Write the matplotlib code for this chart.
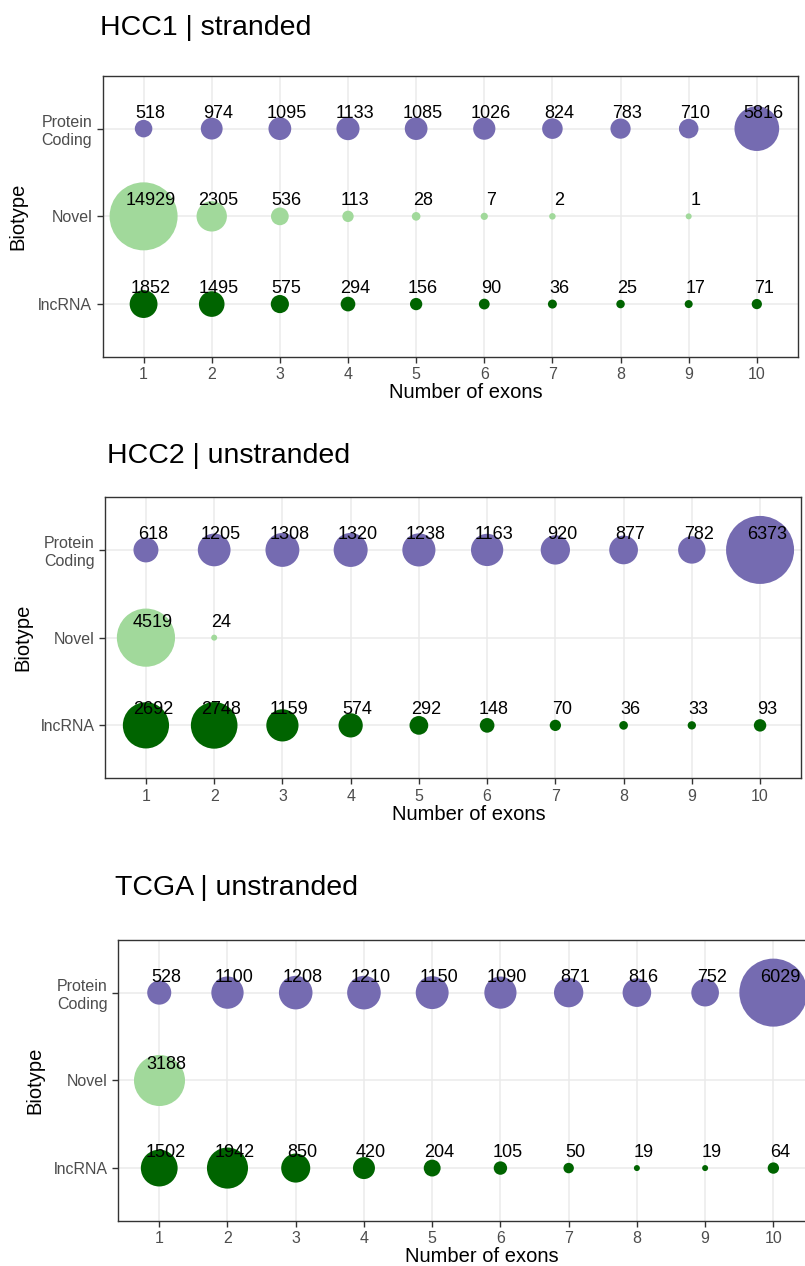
import numpy as np
import matplotlib
matplotlib.use("Agg")
import matplotlib.pyplot as plt

plt.rcParams['font.family'] = ['Liberation Sans', 'DejaVu Sans']

# transcript counts per number of exons (10 = 10 or more), one set per dataset
exons = [1, 2, 3, 4, 5, 6, 7, 8, 9, 10]
biotypes = ['lncRNA', 'Novel', 'Protein\nCoding']

hcc1_protein = [518, 974, 1095, 1133, 1085, 1026, 824, 783, 710, 5816]
hcc1_novel = [14929, 2305, 536, 113, 28, 7, 2, np.nan, 1, np.nan]
hcc1_lncrna = [1852, 1495, 575, 294, 156, 90, 36, 25, 17, 71]

hcc2_protein = [618, 1205, 1308, 1320, 1238, 1163, 920, 877, 782, 6373]
hcc2_novel = [4519, 24, np.nan, np.nan, np.nan, np.nan, np.nan, np.nan, np.nan, np.nan]
hcc2_lncrna = [2692, 2748, 1159, 574, 292, 148, 70, 36, 33, 93]

tcga_protein = [528, 1100, 1208, 1210, 1150, 1090, 871, 816, 752, 6029]
tcga_novel = [3188, np.nan, np.nan, np.nan, np.nan, np.nan, np.nan, np.nan, np.nan, np.nan]
tcga_lncrna = [1502, 1942, 850, 420, 204, 105, 50, 19, 19, 64]

titles = ['HCC1 | stranded', 'HCC2 | unstranded', 'TCGA | unstranded']

colors = {'Protein\nCoding': '#756bb1', 'Novel': '#a1d99b', 'lncRNA': '#006400'}

W, H = 805, 1266
DPI = 100
fig = plt.figure(figsize=(W / DPI, H / DPI), dpi=DPI)

# panel boxes in pixels: left, top, right, bottom
boxes = [(102.7, 76, 797.7, 356.7),
         (105, 497.3, 801, 778),
         (118.3, 940, 814.3, 1220.7)]
title_pos = [(100, 35), (107, 463), (115, 895)]
ylab_x = [18, 23, 35]
xlab_pos = [(466, 393), (469, 815), (482, 1257)]

panels = [
    (hcc1_lncrna, hcc1_novel, hcc1_protein),
    (hcc2_lncrna, hcc2_novel, hcc2_protein),
    (tcga_lncrna, tcga_novel, tcga_protein),
]

R_MIN, R_MAX = 3.0, 34.0  # bubble radius range in pixels


def radius(v, vmin, vmax):
    # area-style size scale: radius grows with sqrt of rescaled count
    return R_MIN + (R_MAX - R_MIN) * np.sqrt((v - vmin) / (vmax - vmin))


for i, series in enumerate(panels):
    l, t, r, b = boxes[i]
    ax = fig.add_axes([l / W, 1 - b / H, (r - l) / W, (b - t) / H])

    allv = np.concatenate([np.array(s, dtype=float) for s in series])
    vmin, vmax = np.nanmin(allv), np.nanmax(allv)

    for row, (name, vals) in enumerate(zip(biotypes, series), start=1):
        vals = np.array(vals, dtype=float)
        keep = ~np.isnan(vals)
        xs = np.array(exons)[keep]
        vs = vals[keep]
        rad = radius(vs, vmin, vmax)
        sizes = (2 * rad * 72 / DPI) ** 2
        ax.scatter(xs, np.full(len(xs), row), s=sizes, color=colors[name],
                   linewidths=0, zorder=2)
        for x, v in zip(xs, vs):
            ax.text(x + 0.1, row + 0.125, str(int(v)), ha='center', va='baseline',
                    fontsize=13, color='black', zorder=3)

    ax.set_xlim(0.4, 10.6)
    ax.set_ylim(0.4, 3.6)
    ax.set_xticks(exons)
    ax.set_yticks([1, 2, 3])
    ax.set_yticklabels(biotypes, multialignment='right')
    ax.grid(True, color='#ebebeb', linewidth=1.1)
    ax.set_axisbelow(True)
    for sp in ax.spines.values():
        sp.set_color('#333333')
        sp.set_linewidth(1.0)
    ax.tick_params(length=4, width=1, color='#333333', labelcolor='#4d4d4d',
                   labelsize=11.5, pad=3.6)

    fig.text(title_pos[i][0] / W, 1 - title_pos[i][1] / H, titles[i],
             fontsize=20.5, ha='left', va='baseline')
    fig.text(ylab_x[i] / W, 1 - (t + b) / 2 / H, 'Biotype', rotation=90,
             fontsize=14.5, ha='center', va='center')
    fig.text(xlab_pos[i][0] / W, 1 - xlab_pos[i][1] / H, 'Number of exons',
             fontsize=14.5, ha='center', va='center')

fig.savefig('out.png', dpi=DPI)
